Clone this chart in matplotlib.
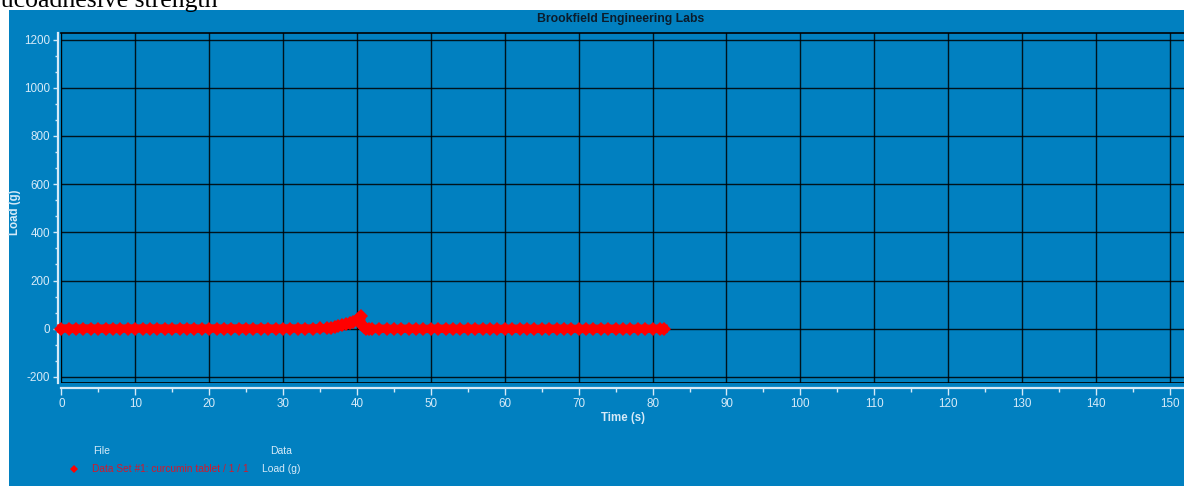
import matplotlib
matplotlib.use("Agg")
import matplotlib.pyplot as plt
from matplotlib.patches import Rectangle
from matplotlib.ticker import MultipleLocator

plt.rcParams["axes.unicode_minus"] = False

# load curve from the Brookfield texture analyser export
time_s = [0, 1, 2, 3, 4, 5, 6, 7, 8, 9, 10, 11, 12, 13, 14, 15, 16, 17, 18, 19,
          20, 21, 22, 23, 24, 25, 26, 27, 28, 29, 30, 31, 32, 33, 34, 35, 36,
          36.5, 37, 37.5, 38, 38.5, 39, 39.5, 40, 40.3, 40.5, 40.7, 40.9, 41.2,
          41.6, 42, 43, 44, 45, 46, 47, 48, 49, 50, 51, 52, 53, 54, 55, 56, 57,
          58, 59, 60, 61, 62, 63, 64, 65, 66, 67, 68, 69, 70, 71, 72, 73, 74,
          75, 76, 77, 78, 79, 80, 81, 81.5]
load_g = [1, 1, 0, 1, 1, 0, 1, 1, 0, 1, 1, 1, 0, 1, 1, 0, 1, 1, 1, 0,
          1, 1, 0, 1, 1, 1, 0, 1, 1, 0, 1, 1, 1, 1, 1, 2, 3,
          5, 7, 10, 14, 18, 23, 28, 35, 43, 51, 14, 6, 1,
          -1, -1, 0, 0, -1, 0, 0, 0, -1, 0, 0, 0, 0, -1, 0, 0, 0,
          0, -1, 0, 0, 0, 0, -1, 0, 0, 0, 0, 0, -1, 0, 0, 0, 0,
          0, -1, 0, 0, 0, 0, 0, 0]

x_range = (0, 151.9)
y_range = (-225, 1227)

W, H = 1184, 486
panel_blue = "#0180c0"
light = "#d6eaf8"
narrow = ["Liberation Sans Narrow", "Liberation Sans", "DejaVu Sans"]

fig = plt.figure(figsize=(W / 100, H / 100), dpi=100, facecolor="white")

# document heading, mostly cut off above the chart
fig.text(218 / W, 1 - 6.8 / H, "Mucoadhesive strength", ha="right", va="baseline",
         fontsize=18.5, family=["Liberation Serif", "DejaVu Serif"], color="black")

# blue chart panel, kept behind the axes
fig.patches.append(Rectangle((9 / W, 0), 1 - 9 / W, 1 - 10 / H, transform=fig.transFigure,
                             facecolor=panel_blue, edgecolor="none", zorder=-1))

ax = fig.add_axes([61.3 / W, 1 - 383 / H, 1 - 61.3 / W, 350 / H])
ax.set_facecolor(panel_blue)

# dense red markers make up the load trace
ax.plot(time_s, load_g, color="#ff0000", lw=6, marker="D", ms=7,
        markeredgewidth=0, zorder=5, clip_on=False)

ax.set_xlim(*x_range)
ax.set_ylim(*y_range)
ax.xaxis.set_major_locator(MultipleLocator(10))
ax.xaxis.set_minor_locator(MultipleLocator(5))
ax.yaxis.set_major_locator(MultipleLocator(200))
ax.yaxis.set_minor_locator(MultipleLocator(200 / 3))

ax.grid(True, which="major", color="black", lw=1, alpha=0.85)
ax.axvline(0, color="black", lw=1.2, zorder=3)
ax.axhline(y_range[0], color="black", lw=1.2, zorder=3)

ax.spines["right"].set_visible(False)
ax.spines["top"].set_color("black")
ax.spines["top"].set_linewidth(1.2)
ax.spines["left"].set_position(("outward", 2.4))
ax.spines["bottom"].set_position(("outward", 3.6))
for side in ("left", "bottom"):
    ax.spines[side].set_color(light)
    ax.spines[side].set_linewidth(1.6)

ax.tick_params(axis="y", which="major", length=3.6, width=1, color=light,
               labelcolor=light, labelsize=8.4, pad=2)
ax.tick_params(axis="y", which="minor", length=2.2, width=1, color=light)
ax.tick_params(axis="x", which="major", length=5, width=1, color=light,
               labelcolor=light, labelsize=8.4, pad=2)
ax.tick_params(axis="x", which="minor", length=2.9, width=1, color=light)
for lbl in ax.get_xticklabels() + ax.get_yticklabels():
    lbl.set_family(narrow)

fig.text(620.5 / W, 1 - 19 / H, "Brookfield Engineering Labs", ha="center", va="center",
         fontsize=8.8, fontweight="bold", family=narrow, color="#0b1c2c")
fig.text(623 / W, 1 - 418 / H, "Time (s)", ha="center", va="center",
         fontsize=8.3, fontweight="bold", family=narrow, color=light)
fig.text(15 / W, 1 - 212 / H, "Load (g)", ha="center", va="center", rotation=90,
         fontsize=8.3, fontweight="bold", family=narrow, color=light)

# legend block under the chart
fig.text(93 / W, 1 - 451 / H, "File", ha="left", va="center",
         fontsize=7.5, family=narrow, color=light)
fig.text(270 / W, 1 - 451 / H, "Data", ha="left", va="center",
         fontsize=7.5, family=narrow, color=light)
fig.lines.append(plt.Line2D([74 / W], [1 - 469 / H], transform=fig.transFigure,
                            marker="D", ms=4.5, color="#ff0000", markeredgewidth=0))
fig.text(92 / W, 1 - 469 / H, "Data Set #1: curcumin tablet / 1 / 1", ha="left", va="center",
         fontsize=7.3, family=narrow, color="#d4182c")
fig.text(262 / W, 1 - 469 / H, "Load (g)", ha="left", va="center",
         fontsize=7.5, family=narrow, color=light)

fig.savefig("out.png", dpi=100, facecolor="white")
